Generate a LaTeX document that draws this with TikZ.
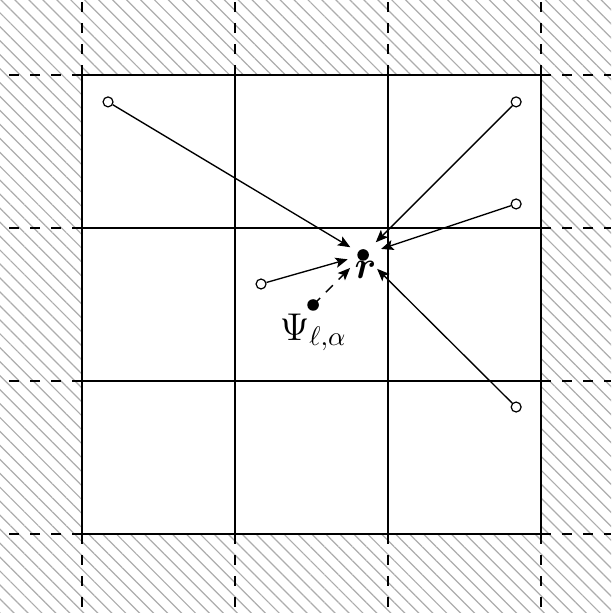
\documentclass[tikz,border=0pt]{standalone}
\usepackage{amsmath}
\usetikzlibrary{patterns.meta,arrows.meta}
\begin{document}
\begin{tikzpicture}[x=2cm,y=2cm,
  grid/.style={line width=0.6pt},
  ext/.style={line width=0.6pt,dash pattern=on 3.7pt off 4.1pt},
  src/.style={circle,draw,line width=0.45pt,fill=white,minimum size=3.7pt,inner sep=0pt},
  dot/.style={circle,fill,minimum size=4.3pt,inner sep=0pt},
  arr/.style={line width=0.5pt,-{Stealth[length=4.6pt,width=3.8pt,inset=1pt]}},
  lbl/.style={anchor=base west,inner sep=0pt,font=\Large}
]
\useasboundingbox (-0.536,-0.516) rectangle (3.458,3.490);
\fill[pattern={Lines[angle=-45,distance=3.67pt,line width=0.45pt]},pattern color=gray!65] (-0.536,-0.516) rectangle (3.458,3.490);
\fill[white] (0,0) rectangle (3,3);
\foreach \i in {0,1,2,3} {
  \draw[ext] (\i,3) -- (\i,3.49);
  \draw[ext] (\i,0) -- (\i,-0.516);
  \draw[ext] (0,\i) -- (-0.536,\i);
  \draw[ext] (3,\i) -- (3.458,\i);
  \draw[grid] (\i,0) -- (\i,3);
  \draw[grid] (0,\i) -- (3,\i);
}
\node[src] (A) at (0.170,2.824) {};
\node[src] (B) at (2.837,2.824) {};
\node[src] (C) at (2.837,2.157) {};
\node[src] (D) at (1.170,1.634) {};
\node[src] (E) at (2.837,0.830) {};
\node[dot] (r) at (1.837,1.824) {};
\coordinate (psic) at (1.510,1.497);
\draw[arr,dash pattern=on 3.7pt off 3pt,shorten >=4.5pt] (psic) -- (r);
\node[dot] (psi) at (psic) {};
\node[lbl] (rl) at (1.778,1.671) {$\boldsymbol{r}$};
\node[lbl] (pl) at (1.290,1.268) {$\Psi_{\ell,\alpha}$};
\draw[arr,shorten >=3.2pt] (A) -- (r);
\draw[arr,shorten >=4.3pt] (B) -- (r);
\draw[arr,shorten >=4.7pt] (C) -- (r);
\draw[arr,shorten >=3.6pt] (D) -- (r);
\draw[arr,shorten >=5.0pt] (E) -- (r);
\end{tikzpicture}
\end{document}
